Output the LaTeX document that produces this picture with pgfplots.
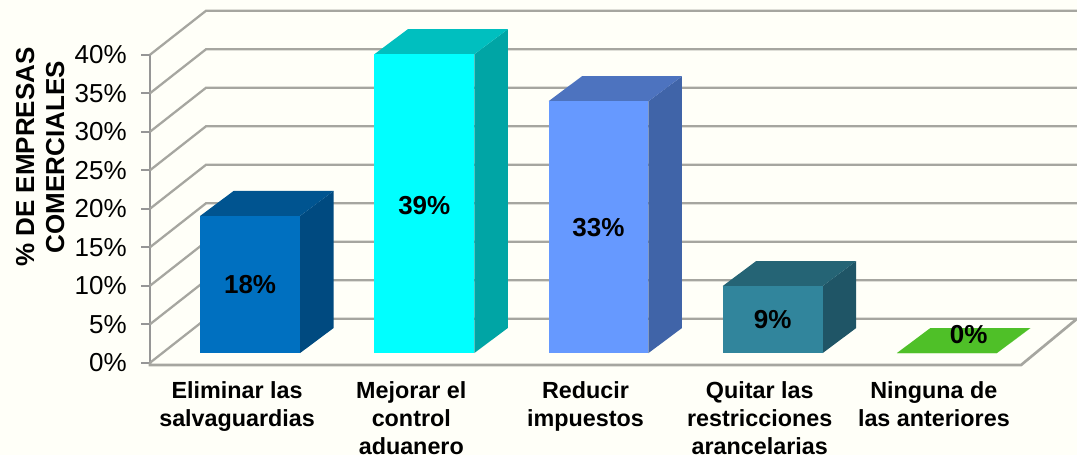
\documentclass[border=0pt]{standalone}
\usepackage{fontspec}
\setmainfont{Liberation Sans}
\usepackage{pgfplots}
\pgfplotsset{compat=1.18}

\definecolor{paper}{RGB}{255,255,248}
\definecolor{gridc}{RGB}{166,166,160}
\definecolor{axisc}{RGB}{150,150,150}
\definecolor{barA}{RGB}{0,112,192}
\definecolor{barAs}{RGB}{0,74,128}
\definecolor{barAt}{RGB}{0,84,144}
\definecolor{barB}{RGB}{0,255,255}
\definecolor{barBs}{RGB}{0,165,165}
\definecolor{barBt}{RGB}{0,191,191}
\definecolor{barC}{RGB}{102,153,255}
\definecolor{barCs}{RGB}{64,100,168}
\definecolor{barCt}{RGB}{77,115,191}
\definecolor{barD}{RGB}{49,133,156}
\definecolor{barDs}{RGB}{31,85,102}
\definecolor{barDt}{RGB}{37,100,117}
\definecolor{barE}{RGB}{79,192,40}

% wall and floor lines: (tick value)
\newcommand{\wallline}[1]{%
  \pgfmathsetmacro\yb{#1+5.71}%
  \addplot[gridc,line width=1.7pt] coordinates {(-0.5,#1) (-0.1785,\yb) (4.8215,\yb)};
}
% 3D bar: {category}{value}{front}{side}{top}
\newcommand{\threedbar}[5]{%
  \pgfmathsetmacro\xa{#1+0.0746-0.287}%
  \pgfmathsetmacro\xb{#1+0.0746+0.287}%
  \pgfmathsetmacro\xc{\xa+0.1923}%
  \pgfmathsetmacro\xd{\xb+0.1923}%
  \pgfmathsetmacro\yt{1.26+#2}%
  \pgfmathsetmacro\yu{4.51+#2}%
  \addplot[fill=#4,draw=none] coordinates {(\xb,1.26) (\xd,4.51) (\xd,\yu) (\xb,\yt)};
  \addplot[fill=#5,draw=none] coordinates {(\xa,\yt) (\xb,\yt) (\xd,\yu) (\xc,\yu)};
  \addplot[fill=#3,draw=none] coordinates {(\xa,1.26) (\xb,1.26) (\xb,\yt) (\xa,\yt)};
}

\begin{document}
\begin{tikzpicture}
\useasboundingbox (0,0) rectangle (807.75pt,341.25pt);
\fill[paper] (0,0) rectangle (807.75pt,341.25pt);
\begin{axis}[
  at={(112.5pt,69.2pt)},
  anchor=south west,
  scale only axis,
  width=653.25pt,
  height=231pt,
  xmin=-0.5, xmax=4.5,
  ymin=0, ymax=40,
  clip=false,
  axis lines*=left,
  y axis line style={-,axisc,line width=1.5pt},
  x axis line style={draw=none},
  xtick={0,1,2,3,4},
  xticklabels={{Eliminar las\\salvaguardias},{Mejorar el\\control\\aduanero},{Reducir\\impuestos},{Quitar las\\restricciones\\arancelarias},{Ninguna de\\las anteriores}},
  x tick label style={font=\fontsize{17.5}{21}\selectfont\bfseries,align=center,inner sep=0pt,yshift=-7.15pt},
  xtick style={draw=none},
  ytick={0,5,...,40},
  yticklabel={\fontsize{19.5}{23}\selectfont\pgfmathprintnumber{\tick}\%},
  /pgf/number format/assume math mode=true,
  y tick label style={inner xsep=0pt,xshift=-10.75pt},
  ytick style={axisc,line width=1.2pt},
  tick align=outside,
  major tick length=6.5pt,
  ylabel={\% DE EMPRESAS\\COMERCIALES},
  ylabel style={at={(axis description cs:-0.126,0.668)},anchor=center,align=center,
    font=\fontsize{19.5}{22.5}\selectfont\bfseries},
]
\pgfplotsinvokeforeach{0,5,...,40}{\wallline{#1}}
\addplot[gridc,line width=2pt] coordinates {(-0.5,0) (-0.5,-0.3) (4.5,-0.3) (4.8215,5.71)};

\threedbar{0}{17.8}{barA}{barAs}{barAt}
\threedbar{1}{38.8}{barB}{barBs}{barBt}
\threedbar{2}{32.7}{barC}{barCs}{barCt}
\threedbar{3}{8.7}{barD}{barDs}{barDt}
\threedbar{4}{0}{barE}{barE}{barE}

\addplot[draw=none,
  point meta=explicit,
  nodes near coords={\pgfmathprintnumber{\pgfplotspointmeta}\%},
  nodes near coords style={anchor=center,text=black,
    font=\fontsize{19.5}{23}\selectfont\bfseries},
] table[x=x,y=y,meta=v] {
x      y     v
0.0746 10.2  18
1.0746 20.4  39
2.0746 17.6  33
3.0746 5.6   9
4.2    3.7   0
};
\end{axis}
\end{tikzpicture}
\end{document}
